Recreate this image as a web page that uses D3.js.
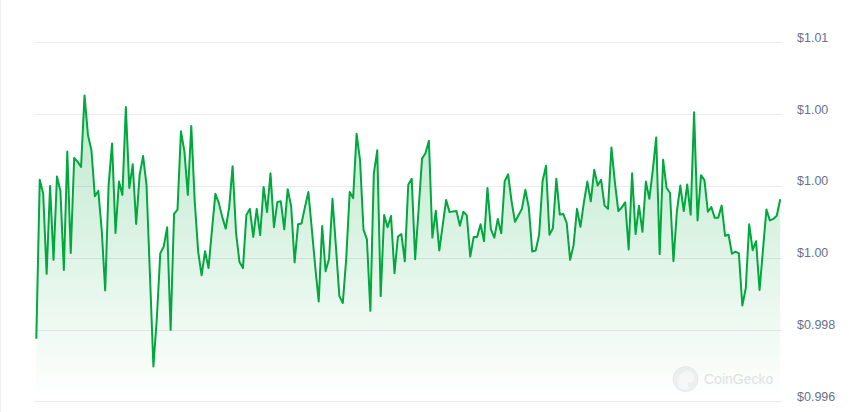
<!DOCTYPE html>
<html>
<head>
<meta charset="utf-8">
<script src="https://cdn.jsdelivr.net/npm/d3@7"></script>
<style>
  html, body { margin: 0; padding: 0; background: #fff; }
  svg { display: block; }
</style>
</head>
<body>
<svg id="chart" width="864" height="412"></svg>
<script>
// price samples, oldest first
var prices = [
  0.99774, 1.00217, 1.00178, 0.99955, 1.00200, 0.99994, 1.00226, 1.00186, 0.99966, 1.00296,
  1.00013, 1.00278, 1.00267, 1.00253, 1.00452, 1.00342, 1.00300, 1.00171, 1.00186, 1.00077,
  0.99909, 1.00203, 1.00318, 1.00069, 1.00212, 1.00175, 1.00420, 1.00194, 1.00260, 1.00094,
  1.00230, 1.00283, 1.00203, 0.99952, 0.99697, 0.99832, 1.00012, 1.00031, 1.00085, 0.99799,
  1.00122, 1.00134, 1.00352, 1.00296, 1.00175, 1.00367, 1.00157, 1.00017, 0.99951, 1.00018,
  0.99971, 1.00077, 1.00178, 1.00152, 1.00113, 1.00081, 1.00140, 1.00255, 1.00069, 0.99988,
  0.99971, 1.00119, 1.00136, 1.00058, 1.00136, 1.00063, 1.00197, 1.00127, 1.00235, 1.00085,
  1.00155, 1.00157, 1.00079, 1.00191, 1.00143, 0.99987, 1.00093, 1.00095, 1.00141, 1.00183,
  1.00080, 0.99974, 0.99878, 1.00088, 0.99962, 0.99997, 1.00164, 1.00031, 0.99893, 0.99874,
  0.99999, 1.00183, 1.00166, 1.00345, 1.00272, 1.00078, 1.00051, 0.99852, 1.00234, 1.00299,
  0.99893, 1.00119, 1.00085, 1.00116, 0.99957, 1.00059, 1.00066, 0.99990, 1.00203, 1.00220,
  0.99996, 1.00133, 1.00276, 1.00291, 1.00326, 1.00056, 1.00131, 1.00020, 1.00090, 1.00161,
  1.00127, 1.00129, 1.00130, 1.00089, 1.00128, 1.00118, 1.00003, 1.00058, 1.00058, 1.00093,
  1.00046, 1.00194, 1.00079, 1.00056, 1.00108, 1.00068, 1.00213, 1.00232, 1.00157, 1.00100,
  1.00118, 1.00136, 1.00189, 1.00140, 1.00017, 1.00020, 1.00064, 1.00213, 1.00256, 1.00064,
  1.00082, 1.00220, 1.00120, 1.00122, 1.00097, 0.99994, 1.00035, 1.00136, 1.00086, 1.00154,
  1.00212, 1.00157, 1.00245, 1.00201, 1.00217, 1.00145, 1.00136, 1.00307, 1.00210, 1.00130,
  1.00140, 1.00154, 1.00023, 1.00235, 1.00066, 1.00145, 1.00072, 1.00212, 1.00164, 1.00243,
  1.00335, 1.00010, 1.00273, 1.00195, 1.00181, 0.99990, 1.00129, 1.00201, 1.00130, 1.00204,
  1.00120, 1.00405, 1.00104, 1.00230, 1.00216, 1.00128, 1.00141, 1.00111, 1.00111, 1.00145,
  1.00061, 1.00064, 1.00011, 1.00017, 1.00012, 0.99867, 0.99915, 1.00093, 1.00021, 1.00046,
  0.99910, 1.00022, 1.00134, 1.00104, 1.00108, 1.00117, 1.00163
];

// y axis ticks and the labels shown for them (rounded to cents like the original)
var tickValues = [0.996, 0.998, 1.000, 1.002, 1.004, 1.006];
var tickLabels = ['$0.996', '$0.998', '$1.00', '$1.00', '$1.00', '$1.01'];

var svg = d3.select('#chart');
var width = 864, height = 412;

var x = d3.scaleLinear()
    .domain([0, prices.length - 1])
    .range([36.3, 780.2]);

var y = d3.scaleLinear()
    .domain([0.996, 1.006])
    .range([401.3, 42.3]);

// thin frame line on the left edge of the page
svg.append('line')
    .attr('x1', 0.5).attr('x2', 0.5)
    .attr('y1', 0).attr('y2', height)
    .attr('stroke', '#eef1f4')
    .attr('stroke-width', 1);

// gradient for the area under the line
var defs = svg.append('defs');
var grad = defs.append('linearGradient')
    .attr('id', 'areaFill')
    .attr('gradientUnits', 'userSpaceOnUse')
    .attr('x1', 0).attr('x2', 0)
    .attr('y1', y(d3.max(prices))).attr('y2', y(0.996));
grad.append('stop').attr('offset', '0%').attr('stop-color', '#00a83e').attr('stop-opacity', 0.26);
grad.append('stop').attr('offset', '100%').attr('stop-color', '#00a83e').attr('stop-opacity', 0.0);

// horizontal grid lines
svg.append('g')
    .selectAll('line')
    .data(tickValues)
    .join('line')
    .attr('x1', 35)
    .attr('x2', 782)
    .attr('y1', d => Math.round(y(d)) + 0.5)
    .attr('y2', d => Math.round(y(d)) + 0.5)
    .attr('stroke', '#e9ebee')
    .attr('stroke-width', 1);

// right hand labels
svg.append('g')
    .selectAll('text')
    .data(tickValues)
    .join('text')
    .attr('x', 797)
    .attr('y', d => y(d) - 0.6)
    .attr('fill', '#677389')
    .style('font', '12.5px "Liberation Sans", Arial, sans-serif')
    .text((d, i) => tickLabels[i]);

// watermark
var mark = svg.append('g')
    .attr('opacity', 0.55);
mark.append('circle')
    .attr('cx', 685.5).attr('cy', 379)
    .attr('r', 12.5)
    .attr('fill', '#e4e6e8')
    .attr('stroke', '#d9dcdf');
mark.append('path')
    .attr('d', 'M679,388 C677,380 679,372 686,371 C692,370 695,375 694,379 C693,382 689,383 687,383 C688,386 689,388 689,390 Z')
    .attr('fill', '#f4f5f6');
mark.append('text')
    .attr('x', 704)
    .attr('y', 384)
    .attr('fill', '#c9cdd1')
    .style('font', '14px "Liberation Sans", Arial, sans-serif')
    .text('CoinGecko');

// area + line
var area = d3.area()
    .x((d, i) => x(i))
    .y0(y(0.996))
    .y1(d => y(d));

var line = d3.line()
    .x((d, i) => x(i))
    .y(d => y(d));

svg.append('path')
    .datum(prices)
    .attr('fill', 'url(#areaFill)')
    .attr('d', area);

svg.append('path')
    .datum(prices)
    .attr('fill', 'none')
    .attr('stroke', '#00a83e')
    .attr('stroke-width', 2)
    .attr('stroke-linejoin', 'round')
    .attr('d', line);
</script>
</body>
</html>
